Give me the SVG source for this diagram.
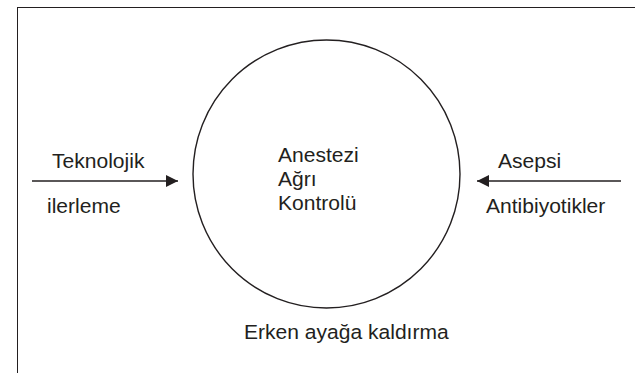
<svg xmlns="http://www.w3.org/2000/svg" width="635" height="373" viewBox="0 0 635 373">
<style>
.t{font-family:"Liberation Sans",Arial,sans-serif;font-size:19.5px;fill:#231f20}
.ln{stroke:#231f20;stroke-width:1.4;fill:none}
</style>
<defs>
<marker id="ah" viewBox="0 0 12 12" refX="12" refY="6" markerWidth="12" markerHeight="12" markerUnits="userSpaceOnUse" orient="auto">
<path d="M0,0 L12,6 L0,12 Z" fill="#231f20"/>
</marker>
</defs>
<rect width="635" height="373" fill="#fff"/>
<rect x="17.5" y="7.5" width="640" height="400" fill="none" stroke="#231f20" stroke-width="1"/>
<g id="center">
<ellipse cx="326.5" cy="174" rx="133.5" ry="134" class="ln"/>
<text class="t" transform="translate(278,162) scale(1.08,1)">Anestezi</text>
<text class="t" transform="translate(278,186) scale(1.08,1)">Ağrı</text>
<text class="t" transform="translate(278,210) scale(1.08,1)">Kontrolü</text>
</g>
<g id="left">
<text class="t" transform="translate(52,168) scale(1.08,1)">Teknolojik</text>
<text class="t" transform="translate(47,213) scale(1.08,1)">ilerleme</text>
</g>
<g id="right">
<text class="t" transform="translate(498,168) scale(1.08,1)">Asepsi</text>
<text class="t" transform="translate(486,213) scale(1.08,1)">Antibiyotikler</text>
</g>
<g id="bottom">
<text class="t" transform="translate(244,339) scale(1.08,1)">Erken ayağa kaldırma</text>
</g>
<g id="connectors">
<line x1="32" y1="181" x2="178" y2="181" class="ln" marker-end="url(#ah)"/>
<line x1="621" y1="181" x2="477" y2="181" class="ln" marker-end="url(#ah)"/>
</g>
</svg>
